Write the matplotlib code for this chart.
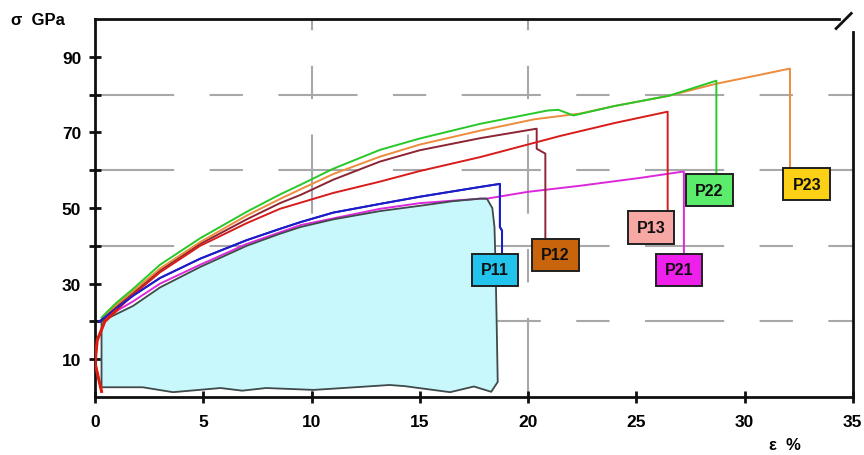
import numpy as np
import matplotlib.pyplot as plt
from matplotlib.patches import Rectangle

# strain (%) / stress (GPa)
p11_x = [0.2, 0.6, 1, 1.75, 3, 4.85, 7, 8.54, 9.5, 11, 13.16, 15, 17.8, 18.7, 18.7, 18.8, 18.8]
p11_y = [20, 21.8, 23.5, 26.8, 31.5, 36.6, 41.5, 44.5, 46.3, 48.8, 51.1, 53, 55.6, 56.4, 45, 44, 37.9]

p12_x = [0.3, 0.6, 1, 1.75, 3, 4.85, 7, 8.54, 9.5, 11, 13.16, 15, 17.8, 20.4, 20.4, 20.8, 20.8]
p12_y = [20, 22, 24, 27.5, 33.5, 40.5, 47, 51.3, 53.5, 57.5, 62.3, 65.3, 68.5, 71, 65.7, 64.4, 42.1]

p13_x = [0.3, 0.0, 0.1, 0.45, 1, 1.75, 3, 4.85, 7, 8.54, 11, 13.16, 15, 17.8, 21.5, 24, 26.45, 26.45]
p13_y = [1.5, 9, 15, 20, 23, 27, 33, 40, 46, 49.8, 54, 57, 59.8, 63.5, 69.1, 72.5, 75.5, 49]

p21_x = [0.2, 0.6, 1, 1.75, 3, 4.85, 7, 9.5, 13.16, 15, 17.8, 18.1, 20, 22.4, 25.2, 27.1, 27.2, 27.2]
p21_y = [20, 21.4, 22.8, 25.3, 30, 35, 40.5, 45.5, 49.8, 51.3, 52.5, 52.5, 54.3, 55.9, 58, 59.6, 59.6, 37.9]

p22_x = [0.3, 0.6, 1, 1.75, 3, 4.85, 7, 8.54, 9.5, 11, 13.16, 15, 17.8, 20.9, 21.4, 22.1, 24, 26.5, 28.7, 28.7]
p22_y = [21, 22.8, 25, 28.6, 35, 42, 49, 53.6, 56.2, 60.4, 65.4, 68.4, 72.3, 75.8, 76, 74.5, 77, 79.7, 83.7, 59.1]

p23_x = [0.3, 0.6, 1, 1.75, 3, 4.85, 7, 8.54, 9.5, 11, 13.16, 15, 17.8, 20.3, 22.4, 24, 26.5, 28.7, 30.5, 32.1, 32.1]
p23_y = [20.5, 22.5, 24.5, 28, 34, 41, 48, 52.4, 55, 59, 63.6, 66.8, 70.5, 73.5, 75, 77, 79.7, 82.9, 85, 86.9, 60.7]

# grey outlined envelope (top edge, right edge, bottom edge back to start)
env_x = [0.3, 1, 1.75, 3, 4.85, 7, 8.54, 9.5, 11, 13.16, 15, 16.5, 17.8, 18.1, 18.35, 18.45,
         18.5, 18.55, 18.6, 18.3, 17.5, 16.4, 14.3, 13.6, 12, 10.1, 7.9, 6.8, 5.8, 3.6, 2.2, 0.3]
env_y = [20, 22, 24.1, 29, 34.4, 40, 43.2, 45, 47, 49.2, 50.6, 51.8, 52.5, 52.5, 50, 45,
         35, 20, 4, 1.4, 2.8, 1.3, 2.9, 3.2, 2.6, 1.9, 2.4, 1.7, 2.4, 1.3, 2.6, 2.6]

labels = ["P11", "P12", "P13", "P21", "P22", "P23"]
# lower-left corner of each label box
label_x = [17.4, 20.2, 24.6, 25.9, 27.3, 31.8]
label_y = [29.4, 33.4, 40.6, 29.4, 50.5, 52.1]

series = [(p11_x, p11_y, "#1c1cc8"), (p12_x, p12_y, "#8c2434"), (p13_x, p13_y, "#d81c1c"),
          (p21_x, p21_y, "#dc28dc"), (p22_x, p22_y, "#28c828"), (p23_x, p23_y, "#ec8c3c")]
box_colors = ["#22c4ee", "#c8640c", "#f8a8a4", "#f020ec", "#5cec6c", "#fcd014"]

plt.rcParams['font.family'] = ['Liberation Sans', 'DejaVu Sans']
fig = plt.figure(figsize=(8.64, 4.56), dpi=100)
ax = fig.add_axes([0.110, 0.127, 0.877, 0.829])
ax.set_xlim(0, 35)
ax.set_ylim(0, 100)

grid_kw = dict(color="#a8a8a8", lw=1.5, dashes=(38, 17, 16, 17), zorder=1)
for gy in [20, 40, 60, 80]:
    ax.plot([0, 35], [gy, gy], **grid_kw)
for gx in [10, 20]:
    ax.plot([gx, gx], [0, 100], **grid_kw)

ax.fill(env_x, env_y, color="#c8f8fc", zorder=2)

draw_order = [3, 0, 1, 2, 5, 4]
for i in draw_order:
    xs, ys, c = series[i]
    ax.plot(xs, ys, color=c, lw=1.4, zorder=3)
ax.plot(env_x + [env_x[0]], env_y + [env_y[0]], color="#404a4a", lw=1.3, zorder=3.5)
ax.plot(p11_x, p11_y, color="#1c1cc8", lw=1.4, zorder=3.6)
ax.plot(p13_x[:5], p13_y[:5], color="#e01c10", lw=2.2, zorder=3.7)

for lab, lx, ly, bc in zip(labels, label_x, label_y, box_colors):
    ax.add_patch(Rectangle((lx, ly), 2.15, 8.5, facecolor=bc, edgecolor="#202020",
                           lw=1.4, zorder=4))
    ax.text(lx + 1.075, ly + 4.25, lab, ha="center", va="center", fontsize=11.5,
            fontweight="bold", color="#101010", zorder=5)

for s in ["left", "bottom", "right"]:
    ax.spines[s].set_linewidth(2)
    ax.spines[s].set_color("#101010")
ax.spines["top"].set_visible(False)
ax.spines["right"].set_bounds(0, 96.5)
ax.plot([0, 0.982], [1, 1], transform=ax.transAxes, color="#101010", lw=2, clip_on=False)
ax.plot([0.978, 0.998], [0.975, 1.015], transform=ax.transAxes, color="#101010", lw=2,
        clip_on=False)

ax.set_xticks(np.arange(0, 36, 5))
ax.set_yticks([10, 30, 50, 70, 90])
ax.set_yticks([20, 40, 60, 80], minor=True)
ax.tick_params(which="both", direction="inout", length=8, width=2, color="#101010",
               labelsize=12.5, pad=6)
ax.tick_params(axis="x", which="both", pad=8)
for t in ax.get_xticklabels() + ax.get_yticklabels():
    t.set_fontweight("bold")

fig.text(0.013, 0.955, "σ  GPa", fontsize=12, fontweight="bold", va="center")
fig.text(0.890, 0.022, "ε  %", fontsize=12, fontweight="bold", va="center")

fig.savefig("out.png", dpi=100)
